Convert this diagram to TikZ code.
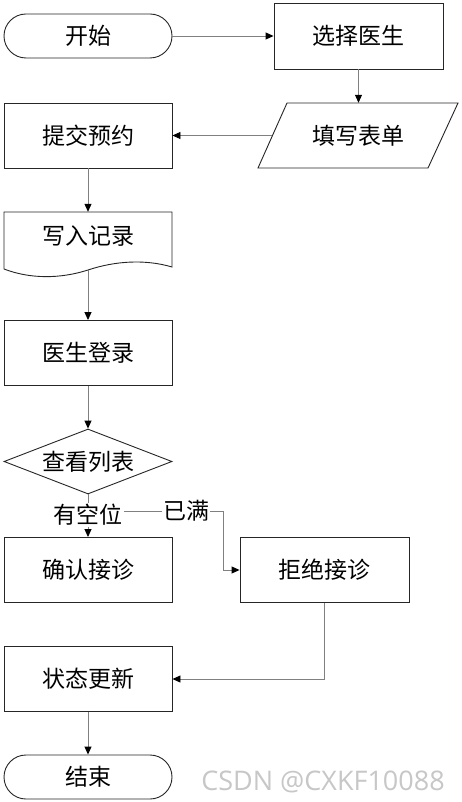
\documentclass[tikz,border=0pt]{standalone}
\usepackage{fontspec}
\newfontfamily\cjk{Noto Sans CJK SC}
\newfontfamily\wmfont{Open Sans}
\usetikzlibrary{arrows.meta,shapes.geometric}
\begin{document}
\begin{tikzpicture}[x=1pt,y=-1pt,
  txt/.style={font=\cjk\fontsize{23}{27}\selectfont},
  box/.style={txt,draw=black!85,line width=0.9pt,minimum width=168pt,minimum height=65pt,inner sep=0pt},
  term/.style={box,rounded corners=22pt,minimum height=44pt},
  plain/.style={txt,minimum width=168pt,minimum height=65pt,inner sep=0pt},
  outline/.style={draw=black!85,line width=0.9pt},
  conn/.style={draw=black!50,line width=0.9pt,-{Triangle[length=8pt,width=7pt,color=black]}},
  lineonly/.style={draw=black!50,line width=0.9pt},
  lbl/.style={txt,fill=white,inner sep=1pt}]
\useasboundingbox (0,0) rectangle (462,802);
\fill[white] (0,0) rectangle (462,802);

\node[term] (start) at (88,36) {开始};
\node[box,minimum width=169pt,minimum height=66pt] (sel) at (358.5,36) {选择医生};
\node[plain,minimum width=171pt] (form) at (358,135.5) {填写表单};
\draw[outline] (258,168) -- (287,103) -- (458,103) -- (428,168) -- cycle;
\node[box] (sub) at (88,135.5) {提交预约};
\node[plain,minimum height=58pt] (rec) at (88,241) {};
\node[txt] (rectxt) at (88,236) {写入记录};
\draw[outline] (4,212) -- (172,212) -- (172,267)
  .. controls (145,259) and (115,261) .. (88,270)
  .. controls (60,279) and (30,279) .. (4,269) -- cycle;
\coordinate (recB) at (88,270);
\node[box] (login) at (88,353) {医生登录};
\node[txt,draw=black!85,line width=0.9pt,diamond,aspect=2.6,inner sep=0pt,minimum width=168pt,minimum height=65pt] (chk) at (88,461.5) {查看列表};
\node[box] (ok) at (88,570) {确认接诊};
\node[box,minimum width=169pt] (rej) at (324.5,570) {拒绝接诊};
\node[box] (upd) at (88,679) {状态更新};
\node[term] (end) at (88,777) {结束};

\coordinate (split) at (88,511);
\coordinate (bend) at (223,511);

\draw[conn] (start.east) -- (sel.west);
\draw[conn] (sel.south) -- (sel.south |- form.north);
\draw[conn] (form.west) -- (sub.east);
\draw[conn] (sub.south) -- (rec.north);
\draw[conn] (recB) -- (login.north);
\draw[conn] (login.south) -- (chk.north);
\draw[conn] (chk.south) -- (ok.north);
\draw[conn] (split) -- (bend) -- (bend |- rej.west) -- (rej.west);
\draw[conn] (rej.south) -- (rej.south |- upd.east) -- (upd.east);
\draw[conn] (upd.south) -- (end.north);

\node[lbl] (yes) at (88,515) {有空位};
\node[lbl] (no) at (186,511) {已满};

\node[font=\wmfont\fontsize{27}{30}\selectfont,text=black!22,inner sep=0pt] (wm) at (323,782) {CSDN @CXKF10088};
\end{tikzpicture}
\end{document}
